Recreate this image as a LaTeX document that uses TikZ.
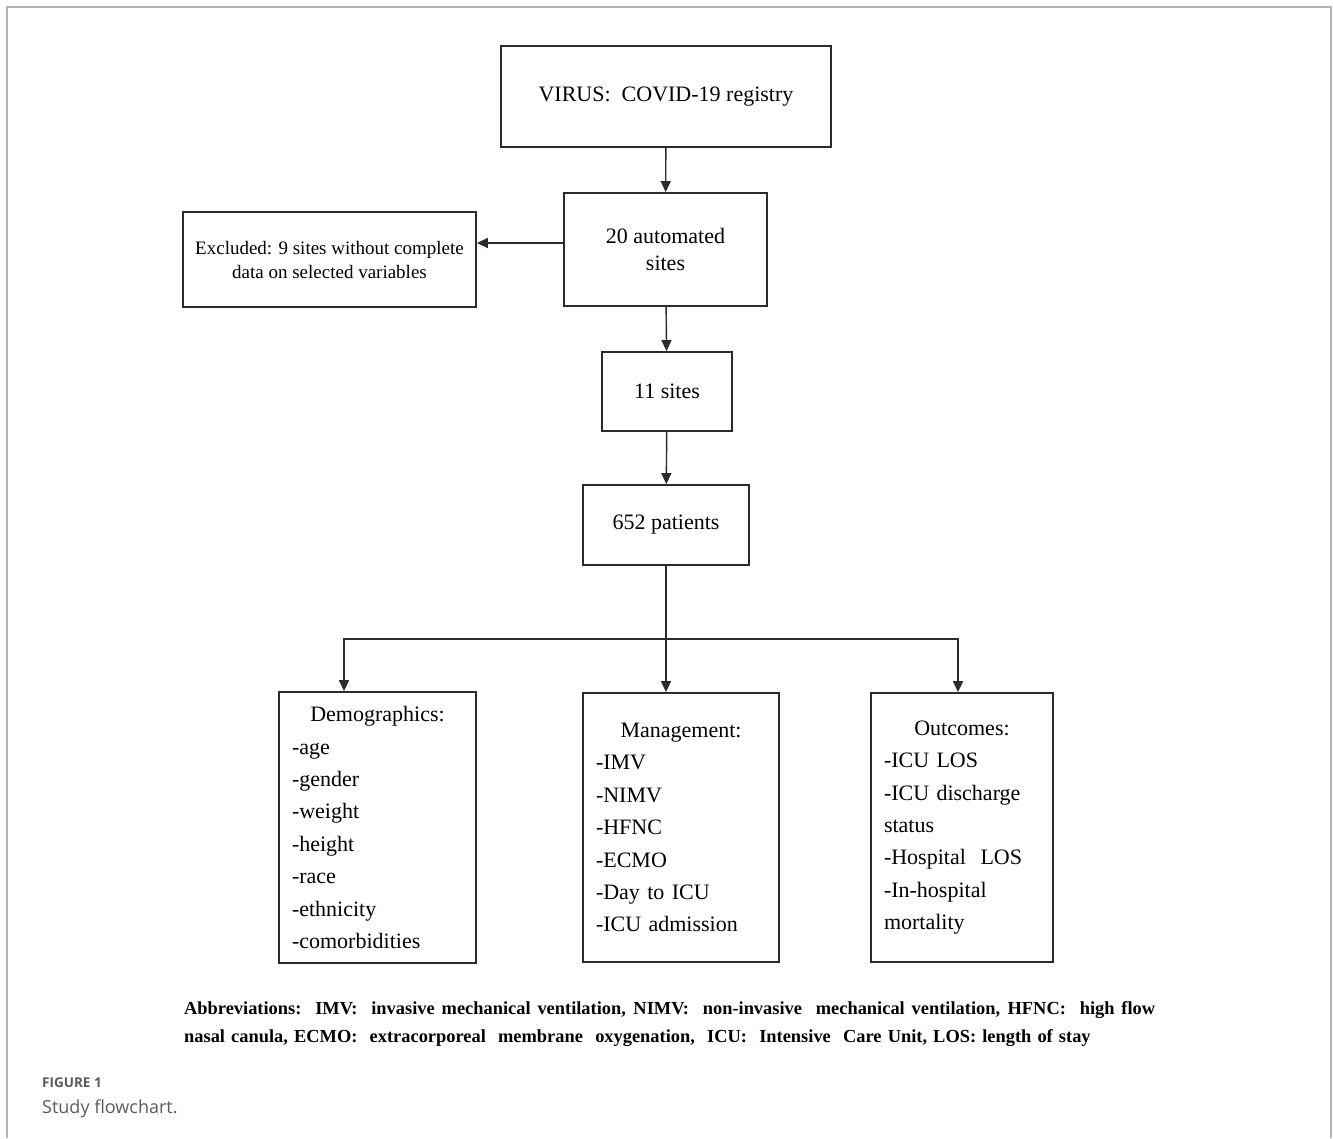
\documentclass[tikz,border=0pt]{standalone}
\usepackage{fontspec}
\setmainfont{Liberation Serif}
\newfontfamily\capfont{Open Sans}
\usetikzlibrary{arrows, arrows.meta}
\definecolor{boxline}{HTML}{2B2B2B}
\definecolor{framegray}{HTML}{B4B4B4}
\definecolor{capgray}{HTML}{5A5A5A}
\tikzset{headarrow/.style = {-{Triangle[length=11pt, width=10pt]}, line width=1.4pt, draw=boxline}}
\tikzset{flowbox/.style = {rectangle, draw=boxline, line width=1.8pt,
                           align=center, inner sep=0pt,
                           font=\fontsize{22}{27}\selectfont}}
\tikzset{listbox/.style = {flowbox, align=left, inner xsep=13pt,
                           font=\fontsize{22}{32.4}\selectfont}}

\begin{document}
\begin{tikzpicture}[x=1pt, y=-1pt]
    \useasboundingbox (0,0) rectangle (1333,1138);
    \draw[framegray, line width=1.5pt] (7,1138) -- (7,7) -- (1331,7) -- (1331,1138);

    % main column
    \node (registry) at (666,96.5) [flowbox, minimum width=330pt, minimum height=101pt]
        {VIRUS:\ \ COVID-19 registry};
    \node (automated) at (665.5,249.5) [flowbox, minimum width=203pt, minimum height=113pt]
        {20 automated\\sites};
    \node (excluded) at (329.5,259.5) [flowbox, minimum width=293pt, minimum height=95pt,
                                       font=\fontsize{19}{24}\selectfont]
        {Excluded: 9 sites without complete\\data on selected variables};
    \node (sites) at (667,391.5) [flowbox, minimum width=130pt, minimum height=79pt]
        {11 sites};
    \node (patients) at (666,525) [flowbox, minimum width=166pt, minimum height=80pt]
        {652 patients};

    % three groups of variables
    \node (demo) at (377.5,827.5) [listbox, text width=171pt, minimum width=197pt, minimum height=271pt]
        {\makebox[\linewidth][c]{Demographics:}\\
         -age\\
         -gender\\
         -weight\\
         -height\\
         -race\\
         -ethnicity\\
         -comorbidities};
    \node (manage) at (681,827.5) [listbox, text width=170pt, minimum width=196pt, minimum height=269pt]
        {\makebox[\linewidth][c]{Management:}\\
         -IMV\\
         -NIMV\\
         -HFNC\\
         -ECMO\\
         -Day to ICU\\
         -ICU admission};
    \node (outcome) at (962,827.5) [listbox, text width=156pt, minimum width=182pt, minimum height=269pt]
        {\makebox[\linewidth][c]{Outcomes:}\\
         -ICU LOS\\
         -ICU discharge\\
         status\\
         -Hospital\ \ LOS\\
         -In-hospital\\
         mortality};

    \draw[headarrow] (registry) -- (automated);
    \draw[headarrow] ([yshift=6.5pt]automated.west) -- ([yshift=6.5pt]automated.west -| excluded.east);
    \draw[headarrow] (automated) -- (sites);
    \draw[headarrow] (sites) -- (patients);

    \coordinate (split) at (666,639);
    \draw[line width=1.4pt, boxline] (patients.south) -- (split);
    \draw[headarrow] (split) -| ([xshift=-33.5pt]demo.north);
    \draw[headarrow] (split) -- ([xshift=-15pt]manage.north);
    \draw[headarrow] (split) -| ([xshift=-4pt]outcome.north);

    % abbreviations and caption
    \node (abbrev) at (184,1024) [anchor=west, align=left, inner sep=0pt, text width=980pt,
                                  font=\bfseries\fontsize{18.4}{28}\selectfont]
        {\hbox to 971pt{\spaceskip=.25em plus 1em\relax Abbreviations:\ \ IMV:\ \ invasive mechanical ventilation, NIMV:\ \ non-invasive\ \ mechanical ventilation, HFNC:\ \ high flow}\\
         nasal canula, ECMO:\ \ extracorporeal\ \ membrane\ \ oxygenation,\ \ ICU:\ \ Intensive\ \ Care Unit, LOS: length of stay};
    \node (figlabel) at (42,1087) [anchor=base west, inner sep=0pt, text=capgray,
                                   font=\capfont\bfseries\fontsize{13.5}{15}\selectfont] {FIGURE 1};
    \node (figtitle) at (42,1113) [anchor=base west, inner sep=0pt, text=capgray,
                                   font=\capfont\fontsize{18}{20}\selectfont] {Study flowchart.};
\end{tikzpicture}
\end{document}
